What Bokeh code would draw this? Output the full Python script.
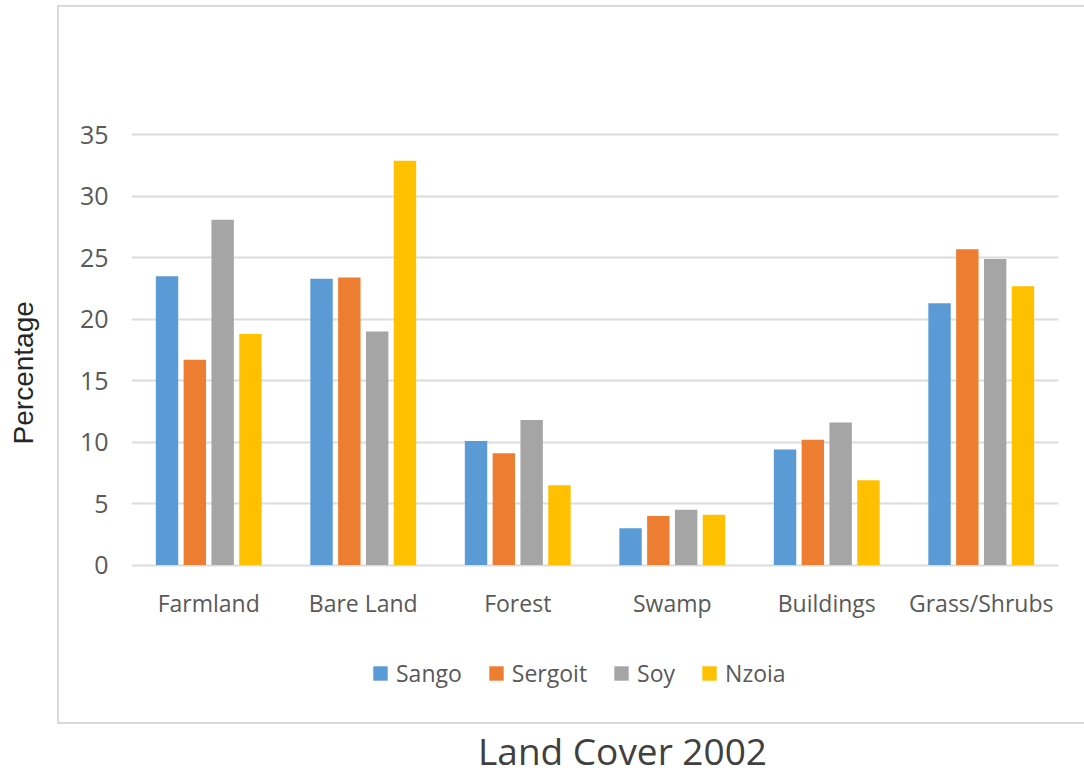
from bokeh.plotting import figure
from bokeh.models import (ColumnDataSource, FactorRange, Range1d, Legend, LegendItem,
                          Label, FixedTicker, InlineStyleSheet)
from bokeh.transform import dodge
from bokeh.embed import file_html
from bokeh.resources import INLINE

# Land cover share (%) per class, by catchment
categories = ["Farmland", "Bare Land", "Forest", "Swamp", "Buildings", "Grass/Shrubs"]
sango = [23.5, 23.3, 10.1, 3.0, 9.4, 21.3]
sergoit = [16.7, 23.4, 9.1, 4.0, 10.2, 25.7]
soy = [28.1, 19.0, 11.8, 4.5, 11.6, 24.9]
nzoia = [18.8, 32.9, 6.5, 4.1, 6.9, 22.7]
series_names = ["Sango", "Sergoit", "Soy", "Nzoia"]
y_ticks = [0, 5, 10, 15, 20, 25, 30, 35]

colors = ["#5B9BD5", "#ED7D31", "#A5A5A5", "#FFC000"]
offsets = [-0.27, -0.09, 0.09, 0.27]
FONT = "Open Sans"
GREY_TEXT = "#595959"

source = ColumnDataSource(dict(category=categories, Sango=sango, Sergoit=sergoit,
                               Soy=soy, Nzoia=nzoia))

# thin grey frame around the chart area (drawn by the page's CSS)
frame_css = InlineStyleSheet(css="""
:host::after {
  content: "";
  position: absolute;
  left: 57px;
  top: 5px;
  width: 1027px;
  height: 719px;
  box-sizing: border-box;
  border: 2px solid #d9d9d9;
  border-right: none;
  pointer-events: none;
}
""")

# the plot area runs down to the canvas bottom so that the legend and the
# caption can sit inside it, under the zero line
p = figure(width=1084, height=776, output_backend="svg", toolbar_location=None,
           x_range=FactorRange(factors=categories, range_padding=0),
           y_range=Range1d(-17.2, 35.2),
           min_border_left=131, min_border_right=26,
           min_border_top=132, min_border_bottom=0,
           stylesheets=[frame_css])
p.outline_line_color = None
p.background_fill_color = "white"
p.border_fill_color = "white"

renderers = []
for name, color, off in zip(series_names, colors, offsets):
    r = p.vbar(x=dodge("category", off, range=p.x_range), top=name, width=0.145,
               bottom=0, source=source, fill_color=color, line_color=None)
    renderers.append(r)

# grid
p.xgrid.grid_line_color = None
p.ygrid.grid_line_color = "#dcdcdc"
p.ygrid.grid_line_width = 2
p.yaxis.ticker = FixedTicker(ticks=y_ticks)

# y axis; the label is padded at its start so it sits level with the bars
p.yaxis.axis_line_color = None
p.yaxis.major_tick_line_color = None
p.yaxis.minor_tick_line_color = None
p.yaxis.major_tick_out = 0
p.yaxis.major_tick_in = 0
p.yaxis.major_label_standoff = 23
p.yaxis.major_label_text_font = FONT
p.yaxis.major_label_text_font_size = "25px"
p.yaxis.major_label_text_color = GREY_TEXT
p.yaxis.axis_label = "\u00a0" * 21 + "Percentage"
p.yaxis.axis_label_text_font = "Liberation Sans"
p.yaxis.axis_label_text_font_size = "28px"
p.yaxis.axis_label_text_font_style = "normal"
p.yaxis.axis_label_text_color = "#262626"
p.yaxis.axis_label_standoff = 38

# x axis, pinned to the zero line
p.xaxis.fixed_location = 0
p.xaxis.axis_line_color = None
p.xaxis.major_tick_line_color = None
p.xaxis.minor_tick_line_color = None
p.xaxis.major_tick_out = 0
p.xaxis.major_tick_in = 0
p.xaxis.major_label_standoff = 22
p.xaxis.major_label_text_font = FONT
p.xaxis.major_label_text_font_size = "23px"
p.xaxis.major_label_text_color = GREY_TEXT

# legend under the category labels
legend = Legend(items=[LegendItem(label=n, renderers=[r]) for n, r in zip(series_names, renderers)],
                orientation="horizontal", location=(240, 87),
                glyph_width=18, glyph_height=18, label_standoff=7, spacing=25,
                padding=0, margin=0, border_line_color=None, background_fill_alpha=0,
                label_text_font=FONT, label_text_font_size="23px",
                label_text_color=GREY_TEXT)
p.add_layout(legend)

# caption under the chart area
p.add_layout(Label(x=491, y=26, x_units="screen", y_units="screen",
                   text="Land Cover 2002", text_align="center", text_baseline="middle",
                   text_font=FONT, text_font_size="37px", text_color="#404040"))

open("out.html", "w").write(file_html(p, INLINE))
